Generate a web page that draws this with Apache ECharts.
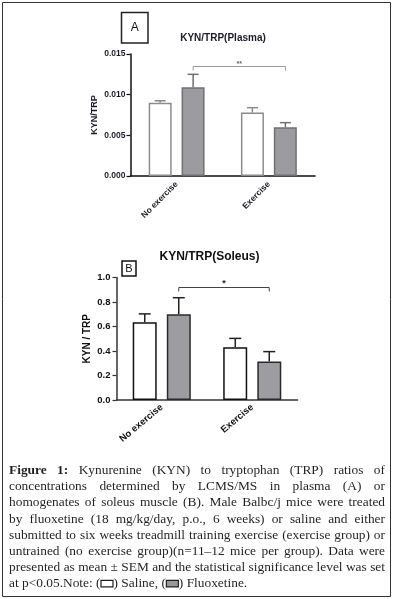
<!DOCTYPE html>
<html><head><meta charset="utf-8">
<script src="https://cdn.jsdelivr.net/npm/echarts@6/dist/echarts.min.js"></script>
<style>html,body{margin:0;padding:0;background:#fff}#c{width:394px;height:599px}</style>
</head><body><div id="c"></div>
<script>
// ---------- data ----------
const categories = ['No exercise', 'Exercise'];
const seriesNames = ['Saline', 'Fluoxetine'];

const plasmaSaline    = [0.0090, 0.0078];
const plasmaSalineSem = [0.00025, 0.0006];
const plasmaFluox     = [0.0109, 0.0060];
const plasmaFluoxSem  = [0.0016, 0.00056];
const plasmaTicks     = [0.000, 0.005, 0.010, 0.015];
const plasmaSig       = [0, 0.0135, 1];   // from category, level, to category
const plasmaSigMark   = '**';

const soleusSaline    = [0.635, 0.43];
const soleusSalineSem = [0.068, 0.073];
const soleusFluox     = [0.70, 0.315];
const soleusFluoxSem  = [0.135, 0.08];
const soleusTicks     = [0.0, 0.2, 0.4, 0.6, 0.8, 1.0];
const soleusSig       = [0, 0.92, 1];
const soleusSigMark   = '*';

const titleA = 'KYN/TRP(Plasma)';
const titleB = 'KYN/TRP(Soleus)';
const yNameA = 'KYN/TRP';
const yNameB = 'KYN / TRP';

const captionLines = [
  'Figure 1: Kynurenine (KYN) to tryptophan (TRP) ratios of',
  'concentrations determined by LCMS/MS in plasma (A) or',
  'homogenates of soleus muscle (B). Male Balbc/j mice were treated',
  'by fluoxetine (18 mg/kg/day, p.o., 6 weeks) or saline and either',
  'submitted to six weeks treadmill training exercise (exercise group) or',
  'untrained (no exercise group)(n=11\u201312 mice per group). Data were',
  'presented as mean \u00b1 SEM and the statistical significance level was set',
  'at p<0.05.Note: (\u25ad) Saline, (\u25ac) Fluoxetine.'
];
const captionBoldWords = 2;

// ---------- helpers ----------
const SANS = '"Liberation Sans", Arial, sans-serif';
const SERIF = '"Liberation Serif", "Times New Roman", serif';

function ts(size, color, weight) {
  return { fontSize: size, fontWeight: weight || 'bold', fontFamily: SANS, color: color };
}
function errData(mean, sem) { return mean.map((m, i) => [i, m, m + sem[i]]); }

function errRender(offset, color, cap) {
  return function (params, api) {
    const b = api.coord([api.value(0), api.value(1)]);
    const t = api.coord([api.value(0), api.value(2)]);
    const x = b[0] + offset;
    return { type: 'group', children: [
      { type: 'line', shape: { x1: x, y1: b[1], x2: x, y2: t[1] }, style: { stroke: color, lineWidth: 1.5 } },
      { type: 'line', shape: { x1: x - cap, y1: t[1], x2: x + cap, y2: t[1] }, style: { stroke: color, lineWidth: 1.5 } }
    ]};
  };
}
function bracketRender(offset, color, mark, txtColor, font) {
  return function (params, api) {
    const p1 = api.coord([api.value(0), api.value(1)]);
    const p2 = api.coord([api.value(2), api.value(1)]);
    const x1 = p1[0] + offset, x2 = p2[0] + offset, y = Math.round(p1[1]) + 0.5;
    return { type: 'group', children: [
      { type: 'polyline', shape: { points: [[x1, y + 4], [x1, y], [x2, y], [x2, y + 4]] },
        style: { stroke: color, lineWidth: 1, fill: 'none' } },
      { type: 'text', x: (x1 + x2) / 2, y: y + 1,
        style: { text: mark, textAlign: 'center', textVerticalAlign: 'bottom', font: font, fill: txtColor } }
    ]};
  };
}

// ---------- caption layout (justified) ----------
const mctx = document.createElement('canvas').getContext('2d');
function tw(t, font) { mctx.font = font; return mctx.measureText(t).width; }
const capLeft = 9, capRight = 385, capTop = 470.5, capStep = 16.2;
let capSize = 14;
(function fit() {
  let maxW = 0;
  captionLines.slice(0, -1).forEach(l => { maxW = Math.max(maxW, tw(l, `${capSize}px ${SERIF}`)); });
  if (maxW > capRight - capLeft) capSize = capSize * (capRight - capLeft) / maxW;
})();
const capFont = `${capSize}px ${SERIF}`;
const capBold = `bold ${capSize}px ${SERIF}`;
const captionEls = [];
captionLines.forEach((line, li) => {
  const y = capTop + li * capStep;
  if (li < captionLines.length - 1) {
    const words = line.split(' ');
    const fonts = words.map((w, i) => (li === 0 && i < captionBoldWords) ? capBold : capFont);
    const widths = words.map((w, i) => tw(w, fonts[i]));
    const total = widths.reduce((a, b) => a + b, 0);
    const gap = (capRight - capLeft - total) / (words.length - 1);
    let x = capLeft;
    words.forEach((w, i) => {
      captionEls.push({ type: 'text', x: x, y: y, silent: true,
        style: { text: w, font: fonts[i], fill: '#231f20', textVerticalAlign: 'middle' } });
      x += widths[i] + gap;
    });
  } else {
    const parts = line.split(/([\u25ad\u25ac])/);
    let x = capLeft;
    parts.forEach(p => {
      if (p === '\u25ad' || p === '\u25ac') {
        captionEls.push({ type: 'rect', shape: { x: x + 0.5, y: y - 3.5, width: 12, height: 6.5 }, silent: true,
          style: { fill: p === '\u25ad' ? '#fff' : '#9a9a9e', stroke: '#231f20', lineWidth: 1.2 } });
        x += 13;
      } else if (p.length) {
        captionEls.push({ type: 'text', x: x, y: y, silent: true,
          style: { text: p, font: capFont, fill: '#231f20', textVerticalAlign: 'middle' } });
        x += tw(p, capFont);
      }
    });
  }
});

// ---------- chart ----------
const chart = echarts.init(document.getElementById('c'), null, { renderer: 'canvas' });
const colA = '#1c1c26', colB = '#111';
const option = {
  animation: false,
  backgroundColor: '#fff',
  grid: [
    { left: 130.5, top: 54, width: 184.5, height: 122 },
    { left: 116.5, top: 277.5, width: 181, height: 122.5 }
  ],
  xAxis: [
    { gridIndex: 0, type: 'category', data: categories,
      axisLine: { lineStyle: { color: '#111', width: 1.5 } },
      axisTick: { alignWithLabel: true, length: 4, lineStyle: { color: '#111', width: 1 } },
      axisLabel: Object.assign({ interval: 0, rotate: 45, margin: 7 }, ts(8.5, colA)) },
    { gridIndex: 1, type: 'category', data: categories,
      axisLine: { lineStyle: { color: '#333', width: 1.5 } },
      axisTick: { alignWithLabel: true, length: 4, lineStyle: { color: '#333', width: 1 } },
      axisLabel: Object.assign({ interval: 0, rotate: 40, margin: 6 }, ts(9.5, colB)) }
  ],
  yAxis: [
    { gridIndex: 0, type: 'value', min: plasmaTicks[0], max: plasmaTicks[plasmaTicks.length - 1],
      interval: plasmaTicks[1] - plasmaTicks[0],
      name: yNameA, nameLocation: 'middle', nameRotate: 90, nameGap: 31,
      nameTextStyle: ts(9, colA),
      axisLine: { show: true, lineStyle: { color: '#111', width: 1.5 } },
      axisTick: { show: true, length: 4, lineStyle: { color: '#111', width: 1.2 } },
      splitLine: { show: false },
      axisLabel: Object.assign({ margin: 5, formatter: v => v.toFixed(3) }, ts(8.5, colA)) },
    { gridIndex: 1, type: 'value', min: soleusTicks[0], max: soleusTicks[soleusTicks.length - 1],
      interval: soleusTicks[1] - soleusTicks[0],
      name: yNameB, nameLocation: 'middle', nameRotate: 90, nameGap: 24,
      nameTextStyle: ts(10, colB),
      axisLine: { show: true, lineStyle: { color: '#333', width: 1.5 } },
      axisTick: { show: true, length: 4, lineStyle: { color: '#333', width: 1.2 } },
      splitLine: { show: false },
      axisLabel: Object.assign({ margin: 6, formatter: v => v.toFixed(1) }, ts(9.5, colB)) }
  ],
  series: [
    { name: seriesNames[0], type: 'bar', xAxisIndex: 0, yAxisIndex: 0, data: plasmaSaline,
      barWidth: 23, barGap: '43%', itemStyle: { color: '#fff', borderColor: '#8c8c8c', borderWidth: 1.5 } },
    { name: seriesNames[1], type: 'bar', xAxisIndex: 0, yAxisIndex: 0, data: plasmaFluox,
      barWidth: 23, barGap: '43%', itemStyle: { color: '#9c9ca0', borderColor: '#707070', borderWidth: 1.5 } },
    { type: 'custom', xAxisIndex: 0, yAxisIndex: 0, data: errData(plasmaSaline, plasmaSalineSem),
      renderItem: errRender(-16.5, '#8c8c8c', 5.5), z: 3 },
    { type: 'custom', xAxisIndex: 0, yAxisIndex: 0, data: errData(plasmaFluox, plasmaFluoxSem),
      renderItem: errRender(16.5, '#707070', 5.5), z: 3 },
    { type: 'custom', xAxisIndex: 0, yAxisIndex: 0, data: [plasmaSig],
      renderItem: bracketRender(16.5, '#9a9a9a', plasmaSigMark, '#666', `bold 7px ${SANS}`), z: 3 },

    { name: seriesNames[0], type: 'bar', xAxisIndex: 1, yAxisIndex: 1, data: soleusSaline,
      barWidth: 24, barGap: '42%', itemStyle: { color: '#fff', borderColor: '#111', borderWidth: 1.5 } },
    { name: seriesNames[1], type: 'bar', xAxisIndex: 1, yAxisIndex: 1, data: soleusFluox,
      barWidth: 24, barGap: '42%', itemStyle: { color: '#9d9da1', borderColor: '#2a2a2a', borderWidth: 1.5 } },
    { type: 'custom', xAxisIndex: 1, yAxisIndex: 1, data: errData(soleusSaline, soleusSalineSem),
      renderItem: errRender(-17, '#222', 6), z: 3 },
    { type: 'custom', xAxisIndex: 1, yAxisIndex: 1, data: errData(soleusFluox, soleusFluoxSem),
      renderItem: errRender(17, '#222', 6), z: 3 },
    { type: 'custom', xAxisIndex: 1, yAxisIndex: 1, data: [soleusSig],
      renderItem: bracketRender(17, '#444', soleusSigMark, '#222', `bold 9px ${SANS}`), z: 3 }
  ],
  graphic: { elements: [
    { type: 'rect', shape: { x: 2.5, y: 2.5, width: 388, height: 594 }, silent: true,
      style: { fill: 'none', stroke: '#333', lineWidth: 1 } },
    { type: 'rect', shape: { x: 121.5, y: 12.5, width: 26.5, height: 30.5 }, silent: true,
      style: { fill: '#fff', stroke: '#222', lineWidth: 1.5 } },
    { type: 'text', x: 134.8, y: 28, silent: true,
      style: { text: 'A', font: `12px ${SANS}`, fill: '#111', textAlign: 'center', textVerticalAlign: 'middle' } },
    { type: 'text', x: 223, y: 38.5, silent: true,
      style: { text: titleA, font: `bold 10px ${SANS}`, fill: '#1c1c26', textAlign: 'center', textVerticalAlign: 'middle' } },
    { type: 'rect', shape: { x: 122, y: 261, width: 14, height: 15 }, silent: true,
      style: { fill: '#fff', stroke: '#111', lineWidth: 1.5 } },
    { type: 'text', x: 129, y: 268.8, silent: true,
      style: { text: 'B', font: `11px ${SANS}`, fill: '#111', textAlign: 'center', textVerticalAlign: 'middle' } },
    { type: 'text', x: 209.5, y: 257, silent: true,
      style: { text: titleB, font: `bold 12px ${SANS}`, fill: '#111', textAlign: 'center', textVerticalAlign: 'middle' } }
  ].concat(captionEls) }
};
chart.setOption(option);
</script></body></html>
